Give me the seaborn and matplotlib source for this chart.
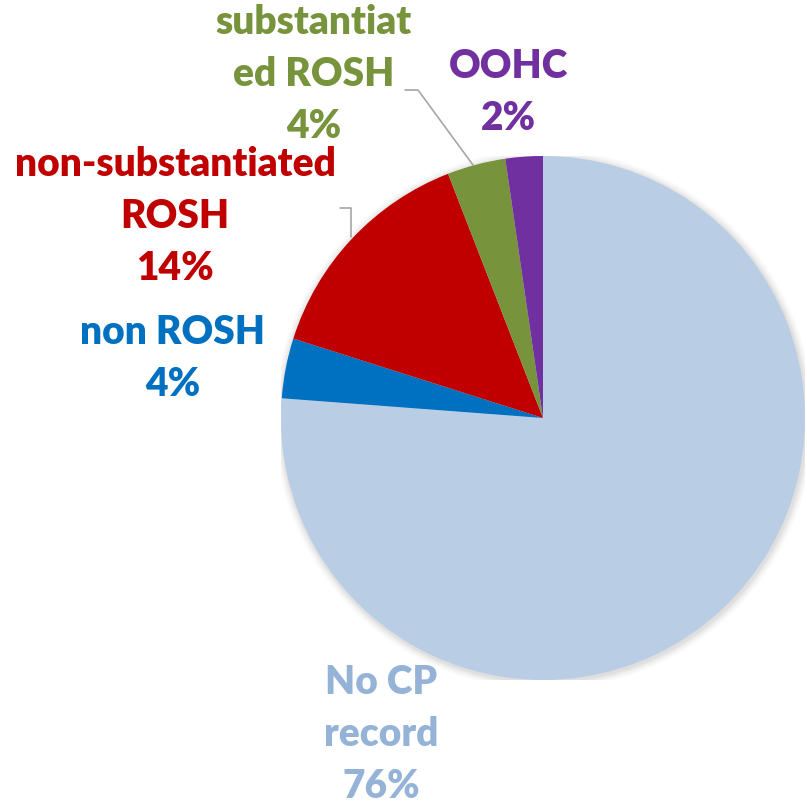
import matplotlib
matplotlib.use("Agg")
import matplotlib.pyplot as plt
import seaborn as sns

# Slice data (clockwise from 12 o'clock)
categories = ["No CP record", "non ROSH", "non-substantiated ROSH", "substantiated ROSH", "OOHC"]
shares = [76.2, 3.7, 14.2, 3.6, 2.3]
pct_labels = ["76%", "4%", "14%", "4%", "2%"]
label_text = ["No CP\nrecord", "non ROSH", "non-substantiated\nROSH", "substantiat\ned ROSH", "OOHC"]

slice_colors = ["#B9CDE5", "#0070C0", "#C00000", "#77933C", "#7030A0"]
text_colors = ["#95B3D7", "#0070C0", "#C00000", "#77933C", "#7030A0"]

sns.set_style("white")
plt.rcParams["font.family"] = ["Lato", "DejaVu Sans"]

fig = plt.figure(figsize=(8.07, 8.06), dpi=100)
# pie centre ~ (543, 418) px, radius ~262 px
ax = fig.add_axes([(543 - 262) / 807, (806 - 418 - 262) / 806, 524 / 807, 524 / 806])

# soft shadow around the pie
for i, a in enumerate([0.035, 0.03, 0.025, 0.02, 0.015]):
    ax.add_patch(plt.Circle((0.004, -0.006), 1.0 + 0.006 * (i + 1), color="black",
                            alpha=a, lw=0, zorder=0))

ax.pie(shares, colors=slice_colors, startangle=90, counterclock=False,
       radius=1.0, wedgeprops=dict(linewidth=0, zorder=2))
ax.set_xlim(-1, 1)
ax.set_ylim(-1, 1)
ax.set_aspect("equal")
ax.axis("off")


def px(x, y):
    return (x - 543) / 262, (418 - y) / 262


label_pos = [(381, 734), (173, 358), (175, 217), (314, 75), (508, 93)]
for name, pct, col, (x, y) in zip(label_text, pct_labels, text_colors, label_pos):
    dx, dy = px(x, y)
    ax.text(dx, dy, name + "\n" + pct, color=col, fontsize=28, fontweight="heavy",
            ha="center", va="center", linespacing=1.5, clip_on=False)

# leader lines
lines = [[(405, 90), (418, 90), (473, 165)], [(340, 208), (351, 208), (351, 237)]]
for pts in lines:
    xs, ys = zip(*[px(x, y) for x, y in pts])
    ax.plot(xs, ys, color="#A6A6A6", lw=1.2, clip_on=False, zorder=1)

fig.savefig("out.png", dpi=100)
